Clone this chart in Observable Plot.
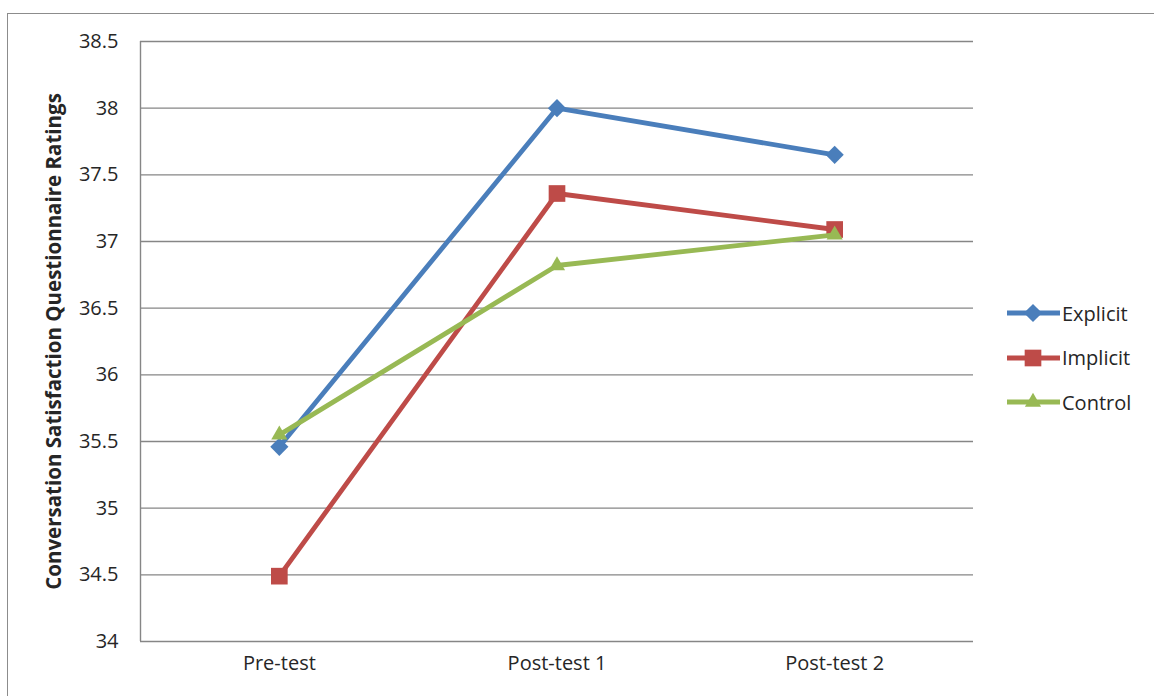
<!DOCTYPE html>
<html>
<head>
<meta charset="utf-8">
<script src="https://cdn.jsdelivr.net/npm/d3@7"></script>
<script src="https://cdn.jsdelivr.net/npm/@observablehq/plot@0.6"></script>
<style>
  html, body { margin: 0; padding: 0; background: #fff; }
  #wrap { position: relative; width: 1154px; height: 696px; overflow: hidden; font-family: "Open Sans", sans-serif; }
  #frame { position: absolute; left: 7px; top: 13px; width: 1200px; height: 800px;
           border-left: 1.5px solid #8c8c8c; border-top: 1.5px solid #8c8c8c; }
  #chart { position: absolute; left: 0; top: 0; }
  #legend { position: absolute; left: 1005px; top: 291px; }
  .item { display: flex; align-items: center; height: 44.5px; font-size: 20px; color: #262626; }
  .item svg { margin-right: 1px; }
</style>
</head>
<body>
<div id="wrap">
  <div id="frame"></div>
  <div id="chart"></div>
  <div id="legend"></div>
</div>
<script>
// Measurement occasions along the x axis
const occasions = ["Pre-test", "Post-test 1", "Post-test 2"];

// Mean questionnaire ratings per group
const explicitRatings = [35.46, 38.0, 37.65];
const implicitRatings = [34.49, 37.36, 37.09];
const controlRatings  = [35.55, 36.82, 37.05];

const groupNames   = ["Explicit", "Implicit", "Control"];
const groupColors  = ["#4a7ebb", "#be4b48", "#98b954"];
const groupSymbols = ["diamond2", "square", "triangle"];
const groupRadius  = [8.2, 9.4, 6.0];

const yTicks = [34, 34.5, 35, 35.5, 36, 36.5, 37, 37.5, 38, 38.5];

const seriesValues = [explicitRatings, implicitRatings, controlRatings];
const rows = groupNames.map((g, gi) =>
  seriesValues[gi].map((v, i) => ({group: g, index: i, value: v}))
);

// Each series: line first, then its markers, in drawing order
const seriesMarks = rows.flatMap((data, gi) => [
  Plot.lineY(data, {x: "index", y: "value", stroke: groupColors[gi], strokeWidth: 4.8}),
  Plot.dot(data, {x: "index", y: "value", symbol: () => groupSymbols[gi],
                  fill: groupColors[gi], stroke: "none", r: groupRadius[gi]})
]);

const chart = Plot.plot({
  width: 1154,
  height: 696,
  marginLeft: 140,
  marginRight: 181,
  marginTop: 41,
  marginBottom: 55,
  style: {fontFamily: "'Open Sans', sans-serif", fontSize: "20px", color: "#262626", background: "transparent"},
  x: {domain: [-0.5, 2.5], label: null},
  y: {domain: [34, 38.5], label: null},
  symbol: {type: "identity"},
  marks: [
    Plot.ruleY(yTicks, {stroke: "#868686", strokeWidth: 1.4}),
    Plot.ruleX([-0.5], {stroke: "#868686", strokeWidth: 1.4}),
    Plot.axisX({ticks: [0, 1, 2], tickFormat: i => occasions[i], tickSize: 0, tickPadding: 14,
                fontSize: 20, label: null}),
    Plot.axisY({ticks: yTicks, tickFormat: d => String(d), tickSize: 0, tickPadding: 22, fontSize: 20,
                label: null}),
    // Rotated y-axis title, centred on the plot's height
    Plot.text(["Conversation Satisfaction Questionnaire Ratings"], {
      frameAnchor: "left", textAnchor: "middle", lineAnchor: "middle", dx: -86, rotate: -90,
      fontSize: 20.5, fontWeight: "bold", fill: "#262626"
    }),
    ...seriesMarks
  ]
});
document.getElementById("chart").appendChild(chart);

// Legend entries: line swatch with the series marker, then the name
const legend = d3.select("#legend");
groupNames.forEach((g, gi) => {
  const item = legend.append("div").attr("class", "item");
  const svg = item.append("svg").attr("width", 56).attr("height", 20);
  svg.append("line").attr("x1", 2).attr("x2", 55).attr("y1", 10).attr("y2", 10)
     .attr("stroke", groupColors[gi]).attr("stroke-width", 4.8);
  const sym = {diamond2: d3.symbolDiamond2, square: d3.symbolSquare, triangle: d3.symbolTriangle}[groupSymbols[gi]];
  svg.append("path").attr("transform", "translate(28,10)")
     .attr("d", d3.symbol(sym, Math.PI * groupRadius[gi] ** 2)())
     .attr("fill", groupColors[gi]);
  item.append("span").text(g);
});
</script>
</body>
</html>
